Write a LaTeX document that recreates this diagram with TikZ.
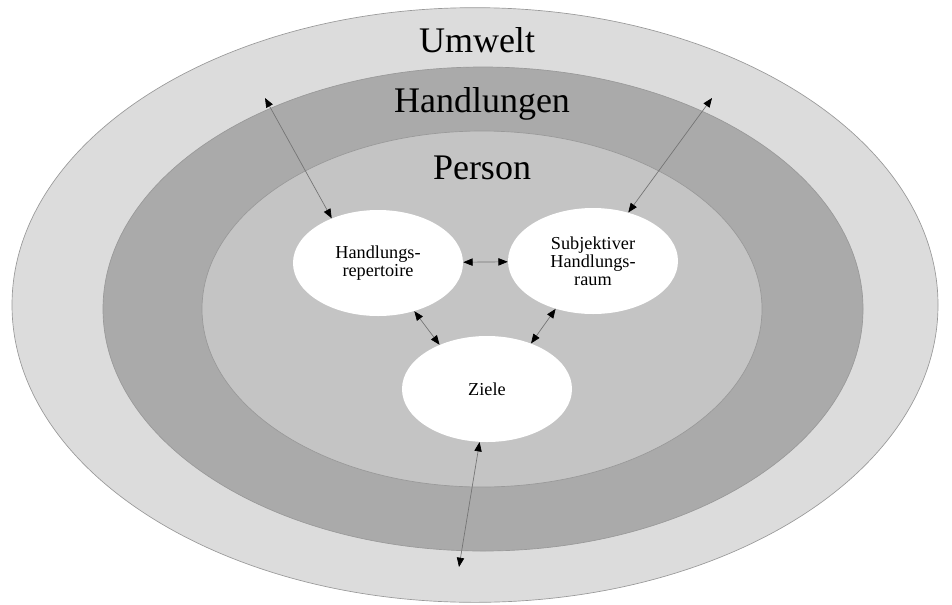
\documentclass[tikz,border=0pt]{standalone}
\usepackage{fontspec}
\setmainfont{Liberation Serif}
\usetikzlibrary{shapes.geometric,arrows.meta}
\definecolor{umweltgray}{HTML}{DCDCDC}
\definecolor{handlgray}{HTML}{AAAAAA}
\definecolor{persongray}{HTML}{C4C4C4}

\begin{document}
\begin{tikzpicture}[x=0.75pt, y=-0.75pt,
  ring/.style = {draw=black!40, line width=0.5pt},
  part/.style = {ellipse, fill=white, minimum width=127.5pt, minimum height=79.5pt,
    inner sep=0pt, align=center, font=\fontsize{13.7}{13.5}\selectfont},
  title/.style = {anchor=base, font=\fontsize{27}{32}\selectfont},
  link/.style = {black!55, line width=0.5pt,
    {Triangle[black,length=7pt,width=5.5pt]}-{Triangle[black,length=7pt,width=5.5pt]}}]
\useasboundingbox (0,0) rectangle (952,604);
% rings
\draw [ring, fill = umweltgray] (475,305) ellipse [x radius=347.25pt, y radius=223pt];
\draw [ring, fill = handlgray] (483,309) ellipse [x radius=285pt, y radius=181.5pt];
\draw [ring, fill = persongray] (482,309) ellipse [x radius=210pt, y radius=133.5pt];
\node [title] (umwelt) at (477,52) {Umwelt};
\node [title] (handlungen) at (482,112.5) {Handlungen};
\node [title] (person) at (482,179) {Person};
% inner parts
\node [part] (rep) at (378,263) {Handlungs-\\repertoire};
\node [part] (subj) at (593,261) {Subjektiver\\Handlungs-\\raum};
\node [part] (ziele) at (487,389) {Ziele};
\coordinate (outA) at (265,98);
\coordinate (outB) at (712,98);
\coordinate (outC) at (459,567);
\draw [link] (outA) -- (rep.136);
\draw [link] (outB) -- (subj.54);
\draw [link] (rep) -- (subj);
\draw [link] (rep.-53) -- (ziele.137);
\draw [link] (subj.232) -- (ziele.46);
\draw [link] (ziele.262) -- (outC);
\end{tikzpicture}
\end{document}
